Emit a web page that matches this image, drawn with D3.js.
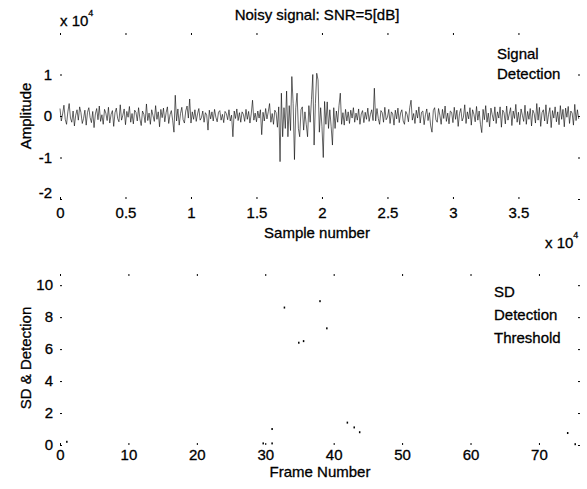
<!DOCTYPE html>
<html><head><meta charset="utf-8">
<script src="https://cdn.jsdelivr.net/npm/d3@7/dist/d3.min.js"></script>
<style>
body{margin:0;background:#fff}
text{font-family:"Liberation Sans",Arial,Helvetica,sans-serif;font-size:15px;fill:#000;stroke:#000;stroke-width:0.3px}
</style>
</head><body>
<svg id="c" width="587" height="489"></svg>
<script>
// ---------- data ----------
const signalStep = 100; // samples between stored points
// amplitude in units of 10^4
const signalValues = [
 .18,-.12,.05,.26,-.08,-.2,.1,.3,-.05,-.15,.12,-.24,.02,.15,-.1,.22,.08,-.18,-.06,.14,
 -.22,.09,.2,-.04,-.16,.11,-.28,.05,.18,-.09,.24,-.13,.03,-.2,.16,.07,-.11,.21,-.17,.04,
 .13,-.25,.08,.19,-.06,-.14,.27,-.1,.02,.17,-.21,.11,-.03,.23,-.15,.06,-.19,.14,.09,-.12,
 .2,-.07,-.23,.12,.04,-.16,.29,-.11,.07,-.2,.15,.01,-.13,.25,-.08,.1,-.26,.16,-.04,.19,
 -.14,.08,.22,-.18,.03,.13,-.1,-.39,.5,-.12,.17,-.22,.06,.21,-.09,-.17,.12,.24,-.05,.41,
 -.17,.1,-.08,.15,-.13,.05,.18,-.1,-.04,.12,-.15,.08,.02,-.34,.14,-.07,.1,-.12,.16,-.03,
 -.14,.09,.13,-.1,.04,-.16,.11,.06,-.09,.15,-.12,.02,-.5,.12,-.06,.17,-.11,.08,-.15,.1,
 .04,-.13,.16,-.08,.11,-.17,.05,.38,-.1,.07,-.14,.12,-.05,.15,-.45,.09,-.12,.18,-.07,.1,
 .3,-.15,.06,-.2,.14,.08,-.27,.22,-1.1,.55,-.5,.2,-.3,.6,-.5,.25,-.35,.95,.3,-1.05,
 .2,.55,-.3,-.5,.15,.22,-.34,.1,-.2,-.5,.25,-.15,.4,1.0,-.7,.3,1.03,.87,-.39,.2,
 -.25,-1.0,.35,-.2,.34,-.3,.15,-.25,-.7,.2,-.3,.12,-.15,.25,.55,-.2,.08,-.22,.16,-.12,
 .1,-.18,.14,-.05,.2,-.15,.07,-.1,.17,-.2,.05,.13,-.16,.09,-.08,.19,-.13,.04,.15,-.11,
 .67,-.12,.18,-.06,-.2,.13,.08,-.15,.21,-.09,-.03,.16,-.18,.1,.05,-.22,.14,-.07,.19,-.16,
 .07,.15,-.12,-.2,.11,.04,-.14,.2,.38,-.1,.06,-.18,.14,-.05,.22,-.17,.09,.12,-.21,.03,
 .17,-.11,.08,-.24,-.39,.13,.2,-.09,-.15,.18,.02,-.2,.16,-.06,.24,-.13,.07,-.19,.12,.09,
 -.16,.21,-.08,.14,-.25,.06,.18,-.12,-.03,.27,-.18,.1,-.07,.2,-.22,.15,.04,-.14,.23,-.1,
 .12,-.2,-.4,.16,-.09,.25,-.15,.07,-.26,.19,.03,-.12,.22,-.18,.1,-.05,.22,-.27,.14,.08,
 -.19,.24,-.1,.05,.2,-.23,.12,-.06,.28,-.15,.09,-.21,.17,.02,-.13,.26,-.2,.11,-.08,.18,
 -.24,.14,.06,-.17,.3,-.1,.21,-.25,.08,.15,-.12,.27,-.19,.04,.2,-.28,.13,-.05,.22,-.14,
 .1,-.21,.25,-.08,.16,-.26,.19,-.03,.23,-.18,.12,.07,-.22,.28,-.11,.15,-.07
];
const sampleTicks = [0, 5000, 10000, 15000, 20000, 25000, 30000, 35000];
const sampleTickLabels = ["0", "0.5", "1", "1.5", "2", "2.5", "3", "3.5"];
const ampTicks = [-2, -1, 0, 1];
const ampTickLabels = ["-2", "-1", "0", "1"];
const topLegend = ["Signal", "Detection"];

const frameTicks = [0, 10, 20, 30, 40, 50, 60, 70];
const sdTicks = [0, 2, 4, 6, 8, 10];
// only the few surviving fragments of the SD / detection traces
const sdFragFrames = [1, 29.7, 31, 31, 32.8, 34.9, 35.6, 38, 39, 42, 43, 43.8, 74.2, 75.3];
const sdFragValues = [0.2, 0.1, 0.1, 1.0, 8.6, 6.4, 6.5, 9.0, 7.3, 1.4, 1.1, 0.8, 0.75, 0.05];
const bottomLegend = ["SD", "Detection", "Threshold"];

// ---------- drawing ----------
const svg = d3.select("#c");

// Top panel
const xTop = d3.scaleLinear().domain([0, 39700]).range([60, 580]);
const yTop = d3.scaleLinear().domain([-2, 2]).range([199, 33]);

svg.append("g").attr("transform", "translate(0,199)")
  .call(d3.axisBottom(xTop).tickValues(sampleTicks)
        .tickFormat((d, i) => sampleTickLabels[i]).tickSize(-2).tickPadding(8));
svg.append("g").attr("transform", "translate(0,33)")
  .call(d3.axisTop(xTop).tickValues(sampleTicks).tickFormat("").tickSize(-2));
const gyTop = svg.append("g").attr("transform", "translate(60,0)")
  .call(d3.axisLeft(yTop).tickValues(ampTicks)
        .tickFormat((d, i) => ampTickLabels[i]).tickSize(-2).tickPadding(8));
svg.append("g").attr("transform", "translate(580,0)")
  .call(d3.axisRight(yTop).tickValues(ampTicks).tickFormat("").tickSize(-2));
gyTop.selectAll(".tick text").filter(d => d === -2).attr("dy", "-0.1em");

const line = d3.line()
  .x((d, i) => xTop(i * signalStep))
  .y(d => yTop(d));
svg.append("path").datum(signalValues)
  .attr("d", line).attr("fill", "none")
  .attr("stroke", "#000").attr("stroke-width", 0.6);

svg.append("text").attr("x", 317).attr("y", 20).attr("text-anchor", "middle")
  .text("Noisy signal: SNR=5[dB]");
const e1 = svg.append("text").attr("x", 60).attr("y", 26);
e1.append("tspan").text("x 10");
e1.append("tspan").attr("dy", -10).style("font-size", "9px").text("4");
const e2 = svg.append("text").attr("x", 545).attr("y", 248);
e2.append("tspan").text("x 10");
e2.append("tspan").attr("dy", -10).style("font-size", "9px").text("4");
svg.append("text").attr("x", 317).attr("y", 238).attr("text-anchor", "middle")
  .text("Sample number");
svg.append("text").attr("transform", "translate(31,116) rotate(-90)")
  .attr("text-anchor", "middle").text("Amplitude");
svg.append("g").selectAll("text").data(topLegend).join("text")
  .attr("x", 497).attr("y", (d, i) => 59 + i * 20).text(d => d);

// Bottom panel
const xBot = d3.scaleLinear().domain([0, 76]).range([60, 580]);
const yBot = d3.scaleLinear().domain([0, 10.7]).range([445, 274]);

svg.append("g").attr("transform", "translate(0,445)")
  .call(d3.axisBottom(xBot).tickValues(frameTicks).tickSize(-2).tickPadding(4));
svg.append("g").attr("transform", "translate(0,274)")
  .call(d3.axisTop(xBot).tickValues(frameTicks).tickFormat("").tickSize(-2));
svg.append("g").attr("transform", "translate(60,0)")
  .call(d3.axisLeft(yBot).tickValues(sdTicks).tickSize(-2).tickPadding(7));
svg.append("g").attr("transform", "translate(580,0)")
  .call(d3.axisRight(yBot).tickValues(sdTicks).tickFormat("").tickSize(-2));

svg.append("g").selectAll("rect").data(sdFragFrames).join("rect")
  .attr("x", d => xBot(d) - 0.75)
  .attr("y", (d, i) => yBot(sdFragValues[i]) - 1)
  .attr("width", 1.5).attr("height", 2).attr("fill", "#000");

svg.append("text").attr("x", 320).attr("y", 477).attr("text-anchor", "middle")
  .text("Frame Number");
svg.append("text").attr("transform", "translate(31,358) rotate(-90)")
  .attr("text-anchor", "middle").text("SD & Detection");
svg.append("g").selectAll("text").data(bottomLegend).join("text")
  .attr("x", 494).attr("y", (d, i) => 297 + i * 23).text(d => d);

// axis styling: no box lines, short black ticks
svg.selectAll(".domain").remove();
svg.selectAll(".tick line").attr("stroke", "#000").attr("stroke-width", 1);
svg.selectAll(".tick text").attr("font-family", null).attr("font-size", null).style("fill", "#000");
</script>
</body></html>
